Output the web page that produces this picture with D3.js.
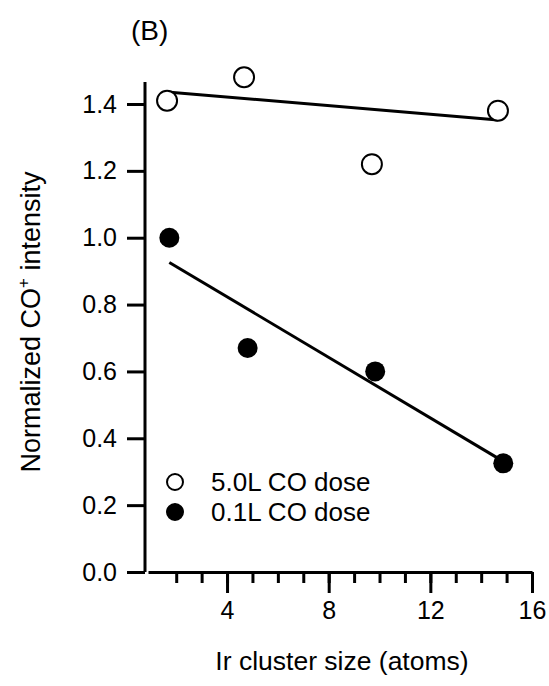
<!DOCTYPE html>
<html lang="en">
<head>
    <meta charset="UTF-8">
    <title>Normalized CO+ intensity vs Ir cluster size</title>
    <style>
        body {
            margin: 0;
            padding: 0;
            background-color: white;
            font-family: "Liberation Sans", Arial, sans-serif;
        }
        .axis path, .axis line {
            stroke: black;
            stroke-width: 3px;
        }
        .axis text {
            font-family: "Liberation Sans", Arial, sans-serif;
            font-size: 25px;
            fill: black;
        }
    </style>
</head>
<body>
    <div id="container"></div>

    <script src="https://d3js.org/d3.v7.min.js"></script>
    <script>
        // data
        const sizeHigh = [1.64, 4.67, 9.70, 14.66];    // 5.0L CO dose (open)
        const valHigh = [1.41, 1.48, 1.22, 1.38];
        const sizeLow = [1.73, 4.81, 9.83, 14.87];     // 0.1L CO dose (filled)
        const valLow = [1.00, 0.67, 0.60, 0.325];

        // fitted lines (end points)
        const fitHighX = [1.64, 14.66];
        const fitHighY = [1.436, 1.352];
        const fitLowX = [1.73, 14.67];
        const fitLowY = [0.926, 0.340];

        const yTicks = [0.0, 0.2, 0.4, 0.6, 0.8, 1.0, 1.2, 1.4];
        const xMajor = [4, 8, 12, 16];
        const xMinor = d3.range(2, 16, 1);

        const legendLabels = ["5.0L CO dose", "0.1L CO dose"];

        const width = 549, height = 686;

        const svg = d3.select("#container")
            .append("svg")
            .attr("width", width)
            .attr("height", height);

        const x = d3.scaleLinear().domain([0.89, 16]).range([148, 532]);
        const y = d3.scaleLinear().domain([0, 1.4]).range([572, 104]);

        // y axis
        const yAxis = svg.append("g")
            .attr("class", "axis")
            .attr("transform", "translate(145,0)")
            .call(d3.axisLeft(y).tickValues(yTicks).tickFormat(d3.format(".1f")).tickSize(18).tickSizeOuter(0).tickPadding(10));
        yAxis.select(".domain").attr("d", `M0,${y(1.466)}V${y(0)}`);

        // x axis: minor ticks then major
        svg.append("g")
            .attr("class", "axis")
            .attr("transform", "translate(0,572)")
            .call(d3.axisBottom(x).tickValues(xMinor).tickSize(11).tickSizeOuter(0).tickFormat(""));
        svg.append("g")
            .attr("class", "axis")
            .attr("transform", "translate(0,572)")
            .call(d3.axisBottom(x).tickValues(xMajor).tickSize(21).tickSizeOuter(0).tickPadding(8))
            .select(".domain").remove();

        // fit lines
        const line = d3.line().x(d => x(d[0])).y(d => y(d[1]));
        svg.append("path")
            .datum(d3.zip(fitHighX, fitHighY))
            .attr("d", line)
            .attr("fill", "none")
            .attr("stroke", "black")
            .attr("stroke-width", 3);
        svg.append("path")
            .datum(d3.zip(fitLowX, fitLowY))
            .attr("d", line)
            .attr("fill", "none")
            .attr("stroke", "black")
            .attr("stroke-width", 3);

        // points
        svg.append("g").selectAll("circle")
            .data(d3.zip(sizeHigh, valHigh))
            .join("circle")
            .attr("cx", d => x(d[0]))
            .attr("cy", d => y(d[1]))
            .attr("r", 10)
            .attr("fill", "white")
            .attr("stroke", "black")
            .attr("stroke-width", 2);

        svg.append("g").selectAll("circle")
            .data(d3.zip(sizeLow, valLow))
            .join("circle")
            .attr("cx", d => x(d[0]))
            .attr("cy", d => y(d[1]))
            .attr("r", 10)
            .attr("fill", "black");

        // legend
        const legend = svg.append("g").attr("transform", "translate(175,482)");
        legendLabels.forEach((lab, i) => {
            const g = legend.append("g").attr("transform", `translate(0,${i * 30})`);
            g.append("circle")
                .attr("r", 8)
                .attr("fill", i === 0 ? "white" : "black")
                .attr("stroke", "black")
                .attr("stroke-width", 2);
            g.append("text")
                .attr("x", 36)
                .attr("y", 9)
                .style("font-size", "26px")
                .text(lab);
        });

        // title
        svg.append("text")
            .attr("x", 131)
            .attr("y", 40)
            .style("font-size", "28px")
            .text("(B)");

        // axis titles
        svg.append("text")
            .attr("x", 342)
            .attr("y", 670)
            .attr("text-anchor", "middle")
            .style("font-size", "26.5px")
            .text("Ir cluster size (atoms)");

        const yt = svg.append("text")
            .attr("transform", "translate(40,322) rotate(-90)")
            .attr("text-anchor", "middle")
            .style("font-size", "27px");
        yt.append("tspan").text("Normalized CO");
        yt.append("tspan").attr("dy", -11).style("font-size", "17px").text("+");
        yt.append("tspan").attr("dy", 11).text(" intensity");
    </script>
</body>
</html>
